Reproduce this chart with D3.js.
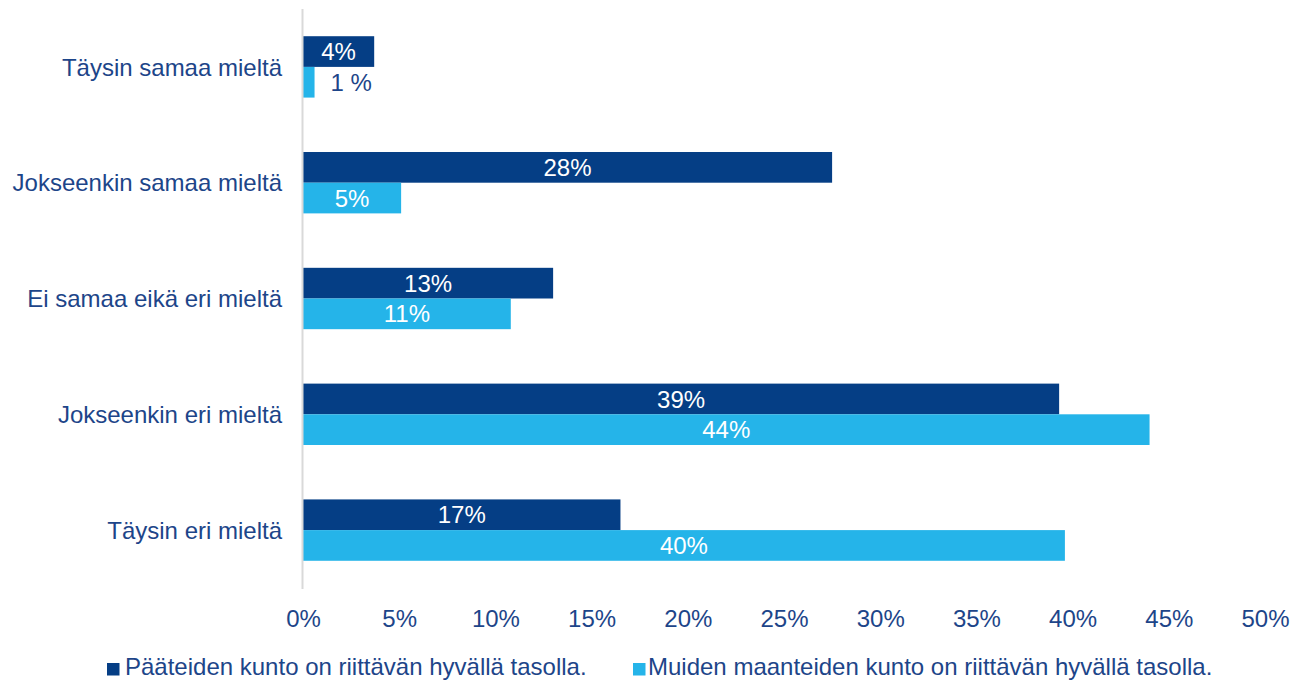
<!DOCTYPE html>
<html>
<head>
<meta charset="utf-8">
<script src="https://cdn.jsdelivr.net/npm/d3@7"></script>
<style>
  body { margin: 0; background: #fff; }
  text { font-family: "Liberation Sans", Arial, sans-serif; }
</style>
</head>
<body>
<svg width="1291" height="680"></svg>
<script>
// data
var categories = ["Täysin samaa mieltä", "Jokseenkin samaa mieltä", "Ei samaa eikä eri mieltä", "Jokseenkin eri mieltä", "Täysin eri mieltä"];
var seriesNames = ["Pääteiden kunto on riittävän hyvällä tasolla.", "Muiden maanteiden kunto on riittävän hyvällä tasolla."];
var paateet = [3.7, 27.5, 13.0, 39.3, 16.5];
var muut = [0.6, 5.1, 10.8, 44.0, 39.6];
var paateetLabels = ["4%", "28%", "13%", "39%", "17%"];
var muutLabels = ["1 %", "5%", "11%", "44%", "40%"];
var ticks = [0, 5, 10, 15, 20, 25, 30, 35, 40, 45, 50];

var colors = ["#053E85", "#25B4E9"];
var textColor = "#1D4589";
var fontSize = 24;

var svg = d3.select("svg");

var x = d3.scaleLinear().domain([0, 50]).range([303, 1265]);
var y = d3.scaleBand().domain(categories).range([9, 588]).paddingInner(0.47).paddingOuter(0.235);
var ySub = d3.scaleBand().domain([0, 1]).range([0, y.bandwidth()]);

var series = [
  { name: seriesNames[0], values: paateet, labels: paateetLabels, color: colors[0] },
  { name: seriesNames[1], values: muut, labels: muutLabels, color: colors[1] }
];

function tooSmall(d) { return (x(d) - x(0)) < 30; }

// bars
series.forEach(function(s, si) {
  var g = svg.append("g");
  g.selectAll("rect")
    .data(s.values)
    .enter().append("rect")
      .attr("x", x(0))
      .attr("y", function(d, i) { return y(categories[i]) + ySub(si); })
      .attr("width", function(d) { return x(d) - x(0); })
      .attr("height", ySub.bandwidth())
      .attr("fill", s.color);

  g.selectAll("text")
    .data(s.values)
    .enter().append("text")
      .attr("x", function(d) { return tooSmall(d) ? x(d) + 16 : (x(0) + x(d)) / 2; })
      .attr("y", function(d, i) { return y(categories[i]) + ySub(si) + ySub.bandwidth() / 2; })
      .attr("dy", "0.36em")
      .attr("text-anchor", function(d) { return tooSmall(d) ? "start" : "middle"; })
      .attr("font-size", fontSize)
      .attr("fill", function(d) { return tooSmall(d) ? textColor : "#fff"; })
      .text(function(d, i) { return s.labels[i]; });
});

// vertical axis line
svg.append("line")
  .attr("x1", x(0) - 0.5).attr("x2", x(0) - 0.5)
  .attr("y1", 9).attr("y2", 589)
  .attr("stroke", "#D9D9D9").attr("stroke-width", 2);

// category labels
svg.append("g").selectAll("text")
  .data(categories)
  .enter().append("text")
    .attr("x", 282)
    .attr("y", function(d) { return y(d) + y.bandwidth() / 2; })
    .attr("dy", "0.36em")
    .attr("text-anchor", "end")
    .attr("font-size", fontSize)
    .attr("fill", textColor)
    .text(function(d) { return d; });

// x axis tick labels
var xAxis = d3.axisBottom(x).tickValues(ticks).tickSize(0).tickPadding(0)
  .tickFormat(function(d) { return d + "%"; });
var ax = svg.append("g").attr("transform", "translate(0,610)").call(xAxis);
ax.select(".domain").remove();
ax.selectAll("text")
  .attr("font-size", fontSize)
  .attr("fill", textColor)
  .attr("font-family", "Liberation Sans, Arial, sans-serif");

// legend
var markerX = [107, 633];
var labelX = [125, 648];
var legend = svg.append("g").selectAll("g")
  .data(series)
  .enter().append("g");
legend.append("rect")
  .attr("x", function(d, i) { return markerX[i]; })
  .attr("y", 663)
  .attr("width", 12.5).attr("height", 12.5)
  .attr("fill", function(d) { return d.color; });
legend.append("text")
  .attr("x", function(d, i) { return labelX[i]; })
  .attr("y", 675)
  .attr("font-size", fontSize)
  .attr("fill", textColor)
  .text(function(d) { return d.name; });
</script>
</body>
</html>
